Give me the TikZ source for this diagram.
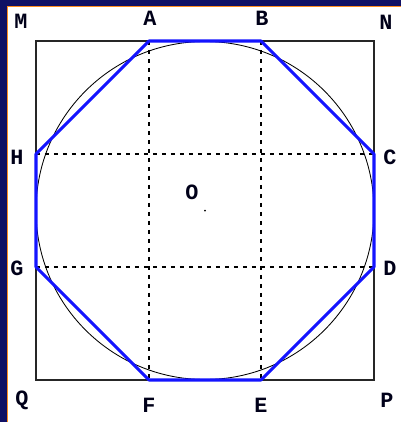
\documentclass[tikz,border=0pt]{standalone}
\usepackage{fontspec}
\setmonofont{Liberation Mono}
\usetikzlibrary{positioning}
\definecolor{framenavy}{RGB}{16,16,100}
\definecolor{frameorange}{RGB}{255,140,30}
\definecolor{octblue}{RGB}{20,20,255}
\tikzset{
  sqline/.style={draw=black!85, line width=1.4pt},
  gridline/.style={draw=black, line width=0.75pt, dash pattern=on 2.8pt off 3.6pt},
  octline/.style={draw=octblue, line width=2.2pt, line join=round},
  ptlabel/.style={font=\fontsize{15.5}{17}\selectfont\ttfamily\bfseries, text=black!90!blue, inner sep=0pt},
}

\begin{document}
\begin{tikzpicture}[x=0.025cm, y=-0.025cm]
  \useasboundingbox (0,0) rectangle (401,422);
  \fill[white] (0,0) rectangle (401,422);
  \fill[framenavy] (0,0) rectangle (7,422);
  \fill[framenavy] (0,0) rectangle (401,6);
  \fill[frameorange] (7,6) rectangle (8.3,422);
  \fill[frameorange] (7,6) rectangle (401,7.2);

  \coordinate (M) at (36,41);
  \coordinate (N) at (374,41);
  \coordinate (P) at (374,380);
  \coordinate (Q) at (36,380);
  \coordinate (A) at (149,41);
  \coordinate (B) at (261,41);
  \coordinate (C) at (374,154);
  \coordinate (D) at (374,267);
  \coordinate (E) at (261,380);
  \coordinate (F) at (149,380);
  \coordinate (G) at (36,267);
  \coordinate (H) at (36,154);
  \coordinate (O) at (205,210.5);

  \draw[gridline] (A) -- (F);
  \draw[gridline] (B) -- (E);
  \draw[gridline] (H) -- (C);
  \draw[gridline] (G) -- (D);
  \draw[sqline] (M) -- (N) -- (P) -- (Q) -- cycle;
  \draw[black, line width=0.6pt] (O) circle (169);
  \draw[octline] (A) -- (B) -- (C) -- (D) -- (E) -- (F) -- (G) -- (H) -- cycle;
  \fill[black] (O) circle (1);

  \node[ptlabel] (lblM) at (21,21) {M};
  \node[ptlabel] (lblA) at (150,18) {A};
  \node[ptlabel] (lblB) at (262,18) {B};
  \node[ptlabel] (lblN) at (386,22) {N};
  \node[ptlabel] (lblC) at (390,157) {C};
  \node[ptlabel] (lblD) at (390,268) {D};
  \node[ptlabel] (lblE) at (261,405) {E};
  \node[ptlabel] (lblF) at (149,405) {F};
  \node[ptlabel] (lblP) at (387,400) {P};
  \node[ptlabel] (lblQ) at (22,400) {Q};
  \node[ptlabel] (lblG) at (17,268) {G};
  \node[ptlabel] (lblH) at (17,157) {H};
  \node[ptlabel] (lblO) at (192,192) {O};
\end{tikzpicture}
\end{document}
